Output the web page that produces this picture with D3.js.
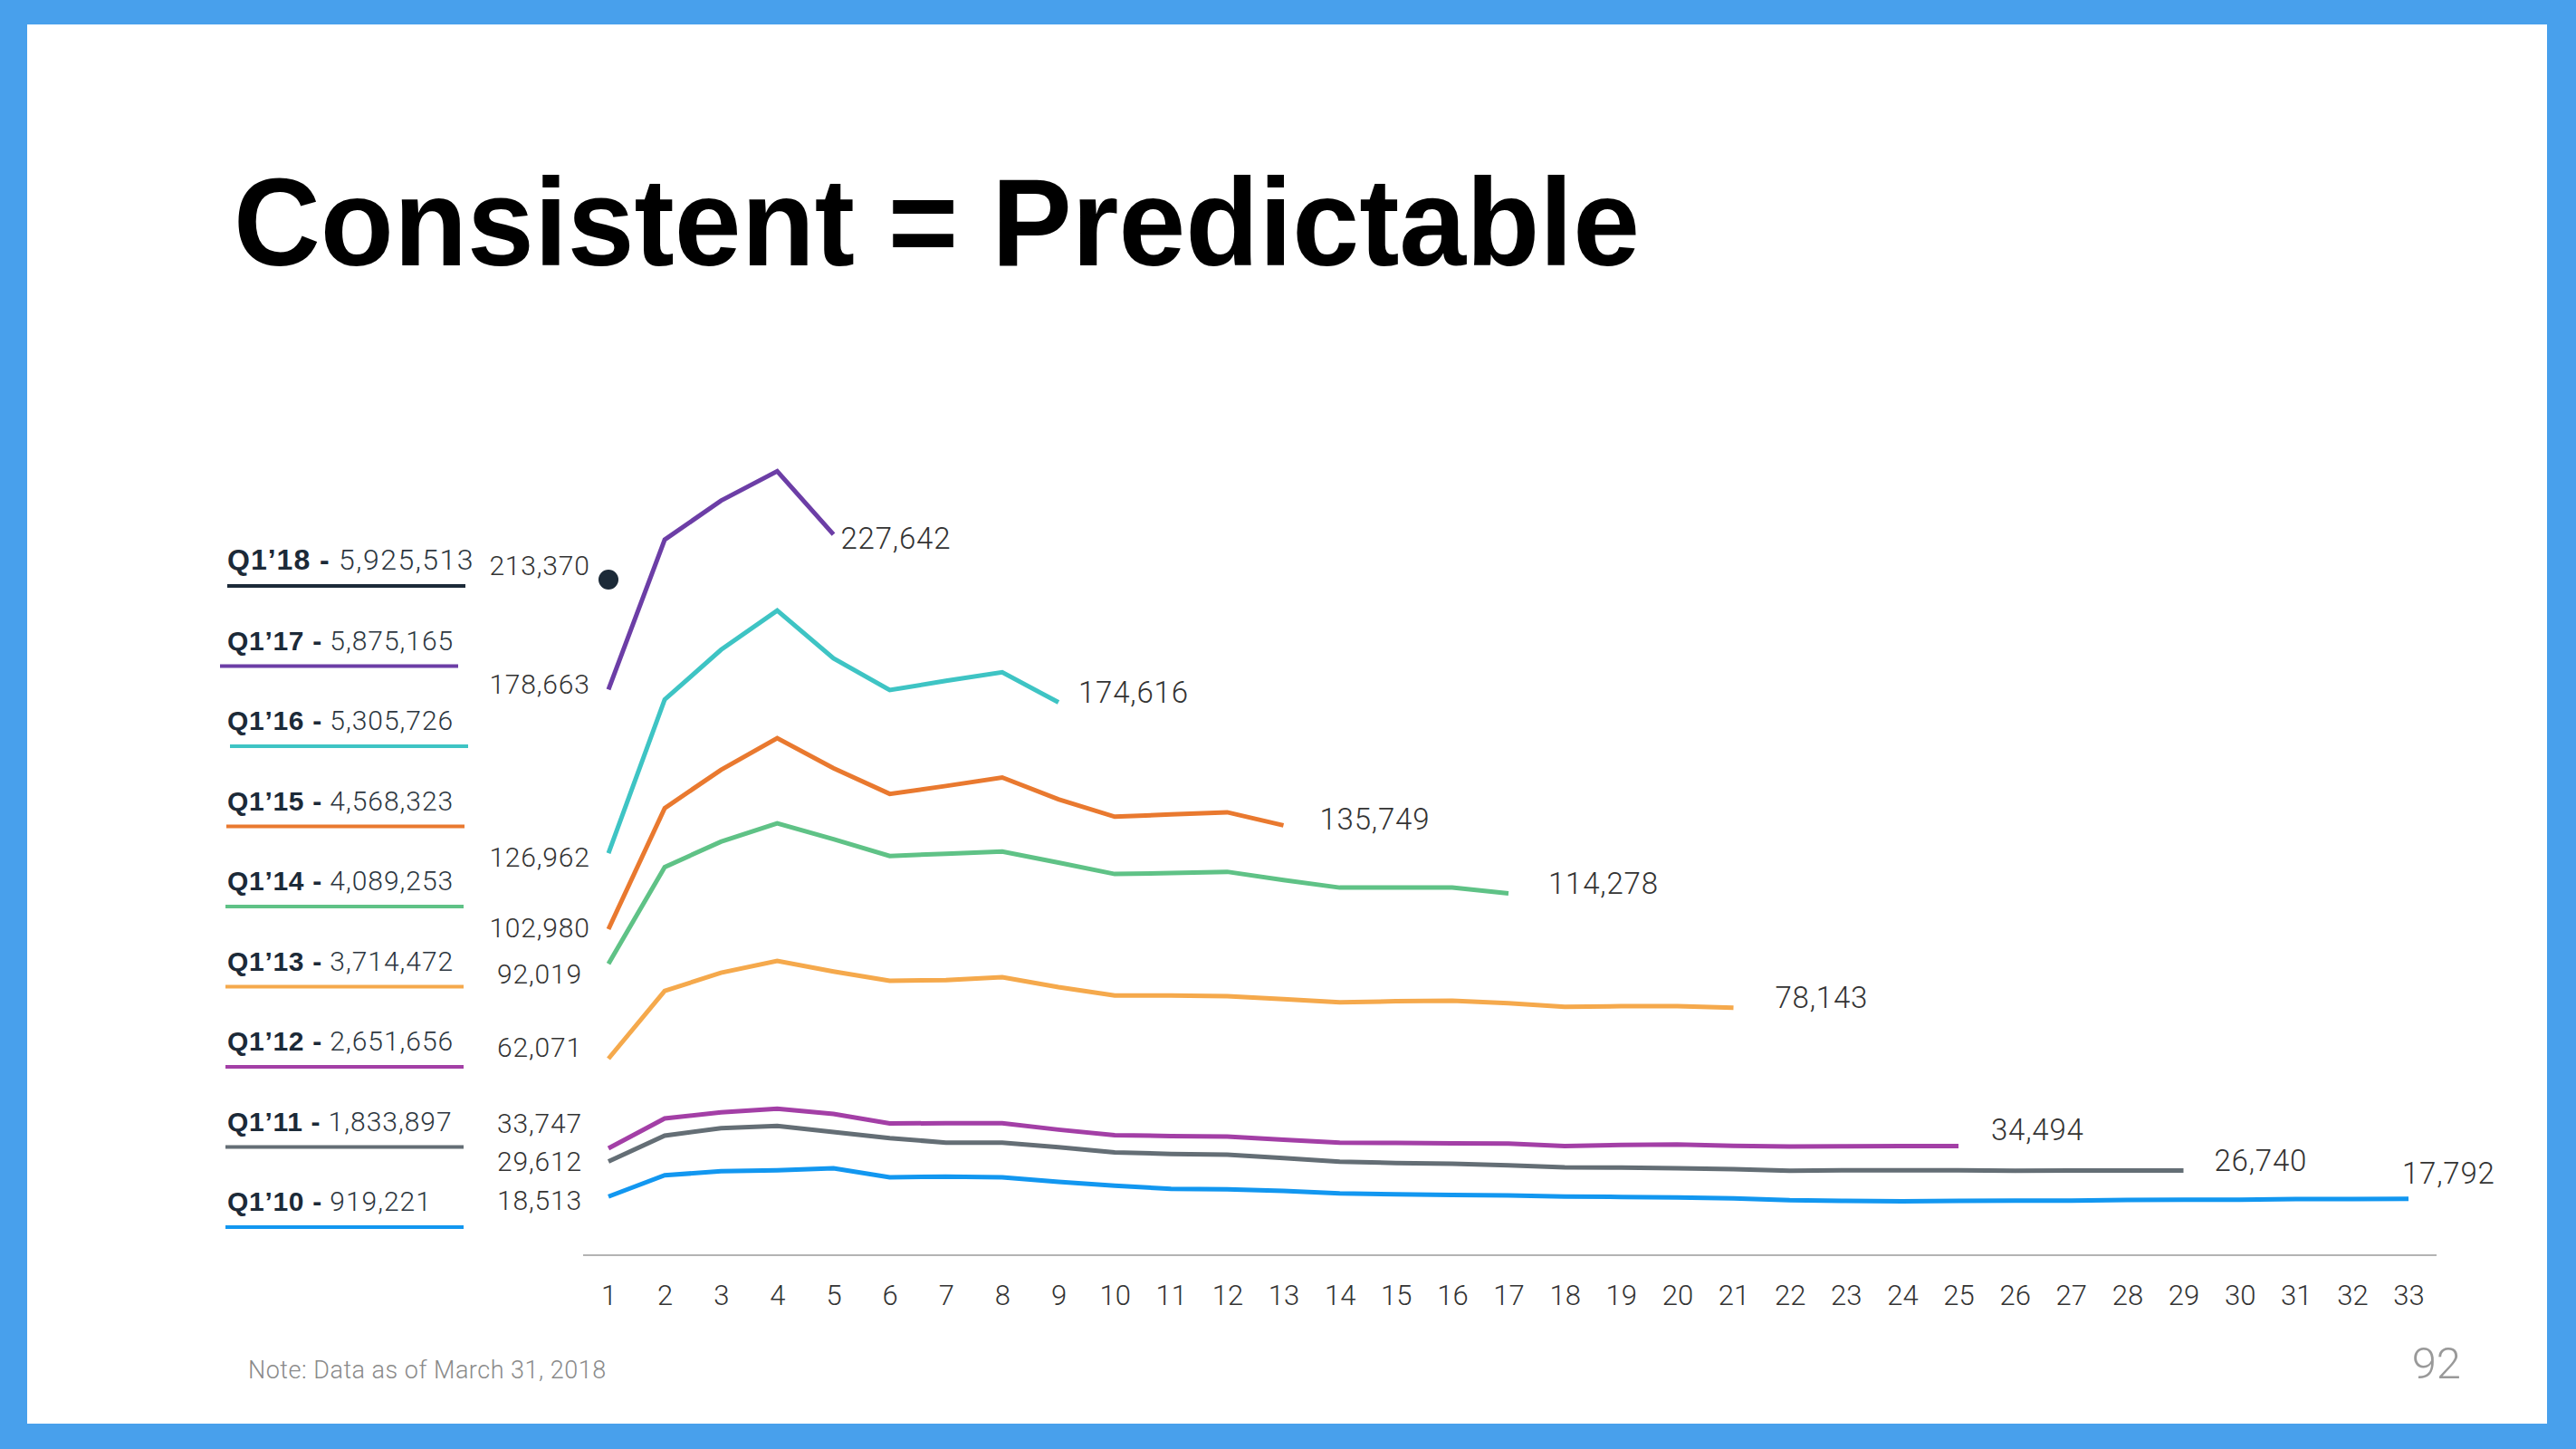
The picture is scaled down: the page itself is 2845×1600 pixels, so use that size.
<!DOCTYPE html>
<html><head><meta charset="utf-8">
<script src="https://cdn.jsdelivr.net/npm/d3@7"></script>
<style>html,body{margin:0;padding:0;background:#48a0ec;overflow:hidden} svg{display:block}</style>
</head><body><svg id="c" width="2845" height="1600"></svg>
<script>
// ---------- DATA ----------
const periods = [1,2,3,4,5,6,7,8,9,10,11,12,13,14,15,16,17,18,19,20,21,22,23,24,25,26,27,28,29,30,31,32,33];
const cohorts = ["Q1’18","Q1’17","Q1’16","Q1’15","Q1’14","Q1’13","Q1’12","Q1’11","Q1’10"];
const cohortTotals = [5925513, 5875165, 5305726, 4568323, 4089253, 3714472, 2651656, 1833897, 919221];

const q1_18 = [213370];
const q1_17 = [178663, 226000, 238300, 247600, 227642];
const q1_16 = [126962, 175500, 191200, 203600, 188500, 178500, 181400, 184100, 174616];
const q1_15 = [102980, 141200, 153300, 163300, 153800, 145700, 148200, 150900, 144000, 138500, 139200, 139900, 135749];
const q1_14 = [92019, 122600, 130600, 136400, 131400, 126100, 126800, 127500, 124000, 120400, 120700, 121100, 118500, 116100, 116100, 116100, 114278];
const q1_13 = [62071, 83500, 89200, 92950, 89600, 86650, 86900, 87800, 84650, 82000, 82000, 81800, 80850, 79900, 80200, 80400, 79600, 78450, 78650, 78650, 78143];
const q1_12 = [33747, 43200, 45100, 46250, 44600, 41600, 41700, 41700, 39650, 37900, 37650, 37450, 36500, 35550, 35450, 35350, 35250, 34450, 34800, 34950, 34550, 34300, 34400, 34450, 34494];
const q1_11 = [29612, 37750, 40100, 40800, 38900, 37000, 35550, 35550, 34100, 32500, 32000, 31750, 30700, 29550, 29100, 28900, 28400, 27750, 27650, 27450, 27200, 26700, 26800, 26800, 26800, 26700, 26750, 26750, 26740];
const q1_10 = [18513, 25250, 26500, 26800, 27450, 24600, 24800, 24600, 23150, 21950, 20950, 20800, 20300, 19550, 19250, 19050, 18850, 18500, 18400, 18200, 17950, 17350, 17150, 17050, 17150, 17200, 17250, 17450, 17550, 17550, 17730, 17750, 17792];

const seriesValues = [q1_18, q1_17, q1_16, q1_15, q1_14, q1_13, q1_12, q1_11, q1_10];

// ---------- STYLE / LAYOUT ----------
const colors = ["#1c2a38","#6c3ea6","#3ec4c4","#e9792f","#5fc286","#f5a94c","#a33fa6","#646e75","#1297f0"];
const startLabelDy = [-5, 5, 15, 9, 22, -2, -17, 11, 15];
const endLabelDx = [0, 8, 22, 40, 44, 46, 36, 34, -7];
const endLabelDy = [0, 16, 0, 5, 1, 0, -6, 0, -17];
const legendUnderlineX1 = [251, 243, 254, 250, 249, 249, 249, 249, 249];
const legendFontSize = [32, 30, 30, 30, 30, 30, 30, 30, 30];

const LIGHT = "Roboto, 'Helvetica Neue', Arial, sans-serif";
const BOLD = "'Liberation Sans', Arial, Helvetica, sans-serif";
const fmt = d3.format(",");

const svg = d3.select("#c");
svg.append("rect").attr("x",30).attr("y",27).attr("width",2783).attr("height",1545).attr("fill","#ffffff");

svg.append("text").text("Consistent = Predictable")
  .attr("x",258).attr("y",293)
  .attr("font-family",BOLD).attr("font-weight",700).attr("font-size",138)
  .attr("textLength",1553).attr("lengthAdjust","spacingAndGlyphs")
  .attr("fill","#000");

const x = d3.scalePoint().domain(periods).range([672, 2660]);
const y = d3.scaleLinear().domain([0, 250000]).range([1386, 512]);

// axis
svg.append("line").attr("x1",644).attr("x2",2691).attr("y1",y(0)).attr("y2",y(0))
  .attr("stroke","#b3b3b3").attr("stroke-width",2);
const ax = svg.append("g").attr("transform",`translate(0,${y(0)})`)
  .call(d3.axisBottom(x).tickSize(0).tickPadding(33));
ax.select(".domain").remove();
ax.selectAll("text").attr("font-family",LIGHT).attr("font-weight",300)
  .attr("font-size",31).attr("fill","#333");

// lines
const line = d3.line().x((d,i)=>x(periods[i])).y(d=>y(d));
seriesValues.forEach((vals,k)=>{
  if (vals.length > 1) {
    svg.append("path").attr("d",line(vals)).attr("fill","none")
      .attr("stroke",colors[k]).attr("stroke-width",5);
  } else {
    svg.append("circle").attr("cx",x(periods[0])).attr("cy",y(vals[0])).attr("r",11).attr("fill",colors[k]);
  }
  // start label
  svg.append("text").text(fmt(vals[0]))
    .attr("x",596).attr("y",y(vals[0])+startLabelDy[k])
    .attr("text-anchor","middle").attr("font-family",LIGHT).attr("font-weight",300)
    .attr("font-size",30).attr("letter-spacing",0.8).attr("fill","#333");
  // end label
  if (vals.length > 1) {
    const n = vals.length;
    svg.append("text").text(fmt(vals[n-1]))
      .attr("x",x(periods[n-1])+endLabelDx[k]).attr("y",y(vals[n-1])+endLabelDy[k])
      .attr("font-family",LIGHT).attr("font-weight",300)
      .attr("font-size",33).attr("letter-spacing",0.8).attr("fill","#333");
  }
  // legend
  const ly = 629 + k*88.5;
  const fs = legendFontSize[k];
  const t = svg.append("text").attr("x",251).attr("y",ly);
  t.append("tspan").text(cohorts[k]+" -").attr("font-family",BOLD).attr("font-weight",700)
    .attr("font-size",fs).attr("letter-spacing",fs > 30 ? 1 : 0.7).attr("fill","#1c2a38");
  t.append("tspan").text(" "+fmt(cohortTotals[k])).attr("font-family",LIGHT).attr("font-weight",300)
    .attr("font-size",fs).attr("letter-spacing",fs > 30 ? 1.5 : 1.0).attr("fill","#2c3640");
  svg.append("line").attr("x1",legendUnderlineX1[k]).attr("x2",legendUnderlineX1[k]+263).attr("y1",ly+18).attr("y2",ly+18)
    .attr("stroke",colors[k]).attr("stroke-width",4);
});

// footer
svg.append("text").text("Note: Data as of March 31, 2018")
  .attr("x",274).attr("y",1522).attr("font-family",LIGHT).attr("font-weight",300)
  .attr("font-size",27).attr("letter-spacing",0.5).attr("fill","#8a8a8a");
svg.append("text").text("92")
  .attr("x",2718).attr("y",1522).attr("text-anchor","end").attr("font-family",LIGHT).attr("font-weight",300)
  .attr("font-size",49).attr("fill","#999");
</script>
</body></html>
